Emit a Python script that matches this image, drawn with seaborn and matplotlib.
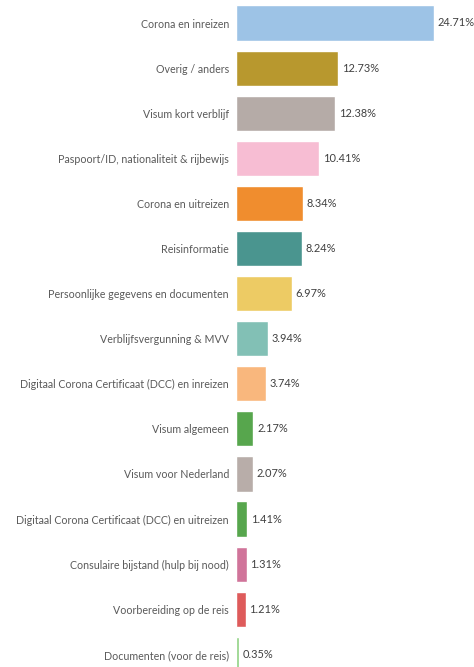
import matplotlib.pyplot as plt
import seaborn as sns
import pandas as pd

# data
categories = [
    "Corona en inreizen",
    "Overig / anders",
    "Visum kort verblijf",
    "Paspoort/ID, nationaliteit & rijbewijs",
    "Corona en uitreizen",
    "Reisinformatie",
    "Persoonlijke gegevens en documenten",
    "Verblijfsvergunning & MVV",
    "Digitaal Corona Certificaat (DCC) en inreizen",
    "Visum algemeen",
    "Visum voor Nederland",
    "Digitaal Corona Certificaat (DCC) en uitreizen",
    "Consulaire bijstand (hulp bij nood)",
    "Voorbereiding op de reis",
    "Documenten (voor de reis)",
]
percentages = [24.71, 12.73, 12.38, 10.41, 8.34, 8.24, 6.97, 3.94, 3.74, 2.17, 2.07, 1.41, 1.31, 1.21, 0.35]
colors = ["#9DC3E6", "#B8982E", "#B5ABA7", "#F7BDD3", "#F08D2E", "#4A958F", "#EDCB64",
          "#82C0B5", "#F9B77D", "#57A64D", "#B8ADA9", "#57A64D", "#D0749A", "#DE5B5B", "#8ED282"]

df = pd.DataFrame({"categorie": categories, "pct": percentages})

sns.set_theme(style="white")
plt.rcParams['font.family'] = ['Lato', 'DejaVu Sans']

fig = plt.figure(figsize=(4.74, 6.67), dpi=100)
ax = fig.add_axes([0.498, 0.0, 0.502, 1.0])

sns.barplot(data=df, x="pct", y="categorie", hue="categorie", palette=colors,
            legend=False, width=0.78, ax=ax, saturation=1)

for i, v in enumerate(percentages):
    ax.text(v + 0.45, i, f"{v:.2f}%", va="center", ha="left", fontsize=7.9, color="#404040")

ax.set_xlim(0, 29.7)
ax.set_ylim(14.28, -0.51)
ax.set_xlabel("")
ax.set_ylabel("")
ax.set_xticks([])
ax.tick_params(axis="y", length=0, pad=5, labelsize=7.7, labelcolor="#595959")
sns.despine(ax=ax, left=True, bottom=True)

fig.savefig("out.png", dpi=100)
